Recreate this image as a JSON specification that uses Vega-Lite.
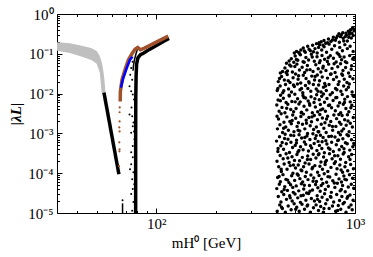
{
"$schema":"https://vega.github.io/schema/vega-lite/v6.json",
"width":298,"height":199,
"autosize":{"type":"none"},
"padding":{"left":57,"top":14,"right":18,"bottom":44},
"background":"white",
"config":{"view":{"stroke":"black","strokeWidth":1},"axis":{"labelFont":"Liberation Serif","titleFont":"Liberation Serif","labelColor":"black","titleColor":"black","tickColor":"black","domain":false,"grid":false,"labelFlush":false,"labelOverlap":false}},
"datasets":{
"band":[{"m":31.62,"lo":0.119,"hi":0.196},{"m":36.7,"lo":0.105,"hi":0.183},{"m":42.7,"lo":0.083,"hi":0.158},{"m":47.3,"lo":0.069,"hi":0.137},{"m":50.1,"lo":0.056,"hi":0.118},{"m":51.9,"lo":0.034,"hi":0.088},{"m":53.1,"lo":0.0105,"hi":0.062},{"m":54.0,"lo":0.0094,"hi":0.04},{"m":54.8,"lo":0.0094,"hi":0.022},{"m":55.4,"lo":0.0094,"hi":0.0115}],
"curves":[
{"g":"k1","o":1,"m":54.5,"l":0.0106},{"g":"k1","o":2,"m":64.8,"l":0.000094},
{"g":"br","o":1,"m":65.8,"l":0.0063},{"g":"br","o":3,"m":65.9,"l":0.0112},{"g":"br","o":4,"m":67.2,"l":0.0224},{"g":"br","o":5,"m":69.8,"l":0.0422},{"g":"br","o":6,"m":72.4,"l":0.0708},{"g":"br","o":7,"m":75.4,"l":0.1},{"g":"br","o":8,"m":78.1,"l":0.1296},{"g":"br","o":9,"m":80.6,"l":0.1437},{"g":"br","o":10,"m":83.2,"l":0.126},{"g":"br","o":11,"m":87.1,"l":0.139},{"g":"br","o":12,"m":92.3,"l":0.16},{"g":"br","o":13,"m":97.7,"l":0.185},{"g":"br","o":14,"m":103.5,"l":0.214},{"g":"br","o":15,"m":109.6,"l":0.247},{"g":"br","o":16,"m":114.8,"l":0.277},
{"g":"bl","o":1,"m":66.3,"l":0.0141},{"g":"bl","o":2,"m":68.2,"l":0.0247},{"g":"bl","o":3,"m":71.0,"l":0.0439},{"g":"bl","o":4,"m":73.7,"l":0.0708},{"g":"bl","o":5,"m":75.9,"l":0.0841},
{"g":"k","o":1,"m":78.7,"l":0.00001},{"g":"k","o":2,"m":78.7,"l":0.001},{"g":"k","o":3,"m":78.8,"l":0.0079},{"g":"k","o":4,"m":79.1,"l":0.0282},{"g":"k","o":5,"m":79.6,"l":0.0562},{"g":"k","o":6,"m":80.8,"l":0.079},{"g":"k","o":7,"m":83.2,"l":0.095},{"g":"k","o":8,"m":86.1,"l":0.103},{"g":"k","o":9,"m":92.3,"l":0.129},{"g":"k","o":10,"m":101.2,"l":0.167},{"g":"k","o":11,"m":109.6,"l":0.209},{"g":"k","o":12,"m":115.8,"l":0.244},
{"g":"kt","o":1,"m":80.4,"l":0.133},{"g":"kt","o":2,"m":79.0,"l":0.1},{"g":"kt","o":3,"m":77.6,"l":0.0708},{"g":"kt","o":4,"m":76.7,"l":0.0501},{"g":"kt","o":5,"m":76.3,"l":0.0376},
{"g":"ki","o":1,"m":67.6,"l":0.00001},{"g":"ki","o":2,"m":67.6,"l":0.0000175}
],
"bd":[{"m":65.4,"l":0.0045},{"m":65.3,"l":0.0034},{"m":65.3,"l":0.002},{"m":65.1,"l":0.00141},{"m":65.3,"l":0.00112},{"m":65.1,"l":0.000596},{"m":65.3,"l":0.000398},{"m":65.2,"l":0.000355},{"m":64.9,"l":0.00015}],
"kd":[{"m":74.7,"l":0.0439},{"m":73.9,"l":0.0299},{"m":75.6,"l":0.0224},{"m":73.3,"l":0.0152},{"m":74.7,"l":0.0114},{"m":76.1,"l":0.00944},{"m":73.3,"l":0.00299},{"m":75.6,"l":0.00271},{"m":76.7,"l":0.00188},{"m":76.1,"l":0.00152},{"m":74.7,"l":0.00104},{"m":77.6,"l":0.000708},{"m":76.1,"l":0.000481},{"m":74.7,"l":0.000335},{"m":76.1,"l":0.000251},{"m":74.7,"l":0.000168},{"m":76.7,"l":0.000106},{"m":75.6,"l":7.08e-5},{"m":76.1,"l":3.98e-5},{"m":74.7,"l":2.99e-5},{"m":76.7,"l":1.88e-5},{"m":75.6,"l":1.14e-5},{"m":77.2,"l":0.00708},{"m":75.0,"l":0.00447},{"m":77.2,"l":0.00112},{"m":73.7,"l":0.000126},{"m":77.4,"l":5.31e-5},{"m":75.9,"l":0.0631},{"m":67.6,"l":2.1e-5}],
"s":[
{"m":406,"l":1.1e-5},{"m":418,"l":1.6e-5},{"m":431,"l":1.3e-5},{"m":446,"l":1.05e-5},{"m":461,"l":1.5e-5},{"m":477,"l":1.2e-5},{"m":494,"l":1.7e-5},{"m":509,"l":1.4e-5},{"m":524,"l":1.1e-5},{"m":541,"l":1.65e-5},{"m":557,"l":1.25e-5},{"m":574,"l":1.5e-5},{"m":596,"l":1.05e-5},{"m":618,"l":1.35e-5},{"m":637,"l":1.6e-5},{"m":655,"l":1.15e-5},{"m":672,"l":1.45e-5},{"m":693,"l":1.05e-5},{"m":712,"l":1.7e-5},{"m":741,"l":1.3e-5},{"m":770,"l":1.5e-5},{"m":799,"l":1.1e-5},{"m":824,"l":1.55e-5},{"m":848,"l":1.25e-5},{"m":871,"l":1.7e-5},{"m":901,"l":1.05e-5},{"m":932,"l":1.4e-5},{"m":968,"l":1.2e-5},
{"m":411,"l":2.6e-5},{"m":424,"l":1.9e-5},{"m":438,"l":2.9e-5},{"m":452,"l":2.2e-5},{"m":469,"l":2.7e-5},{"m":483,"l":2.0e-5},{"m":499,"l":3.0e-5},{"m":515,"l":2.4e-5},{"m":531,"l":1.85e-5},{"m":549,"l":2.8e-5},{"m":566,"l":2.1e-5},{"m":584,"l":3.1e-5},{"m":603,"l":2.3e-5},{"m":625,"l":2.0e-5},{"m":645,"l":2.7e-5},{"m":664,"l":1.95e-5},{"m":683,"l":2.5e-5},{"m":703,"l":3.05e-5},{"m":725,"l":2.15e-5},{"m":752,"l":2.6e-5},{"m":781,"l":1.9e-5},{"m":809,"l":2.9e-5},{"m":836,"l":2.05e-5},{"m":859,"l":2.6e-5},{"m":884,"l":1.85e-5},{"m":912,"l":2.35e-5},{"m":944,"l":2.85e-5},{"m":978,"l":2.1e-5},
{"m":404,"l":4.1e-5},{"m":416,"l":5.3e-5},{"m":428,"l":3.4e-5},{"m":443,"l":4.6e-5},{"m":457,"l":3.7e-5},{"m":474,"l":5.1e-5},{"m":489,"l":3.3e-5},{"m":506,"l":4.8e-5},{"m":521,"l":3.6e-5},{"m":537,"l":5.4e-5},{"m":552,"l":4.0e-5},{"m":571,"l":3.2e-5},{"m":590,"l":4.9e-5},{"m":611,"l":3.8e-5},{"m":633,"l":5.2e-5},{"m":650,"l":4.3e-5},{"m":668,"l":3.5e-5},{"m":689,"l":5.5e-5},{"m":709,"l":3.9e-5},{"m":734,"l":4.7e-5},{"m":760,"l":3.3e-5},{"m":792,"l":4.4e-5},{"m":815,"l":5.6e-5},{"m":842,"l":3.6e-5},{"m":866,"l":4.9e-5},{"m":893,"l":3.4e-5},{"m":925,"l":4.5e-5},{"m":958,"l":5.3e-5},
{"m":408,"l":7.8e-5},{"m":421,"l":6.1e-5},{"m":434,"l":9.2e-5},{"m":449,"l":7.0e-5},{"m":465,"l":5.8e-5},{"m":480,"l":8.6e-5},{"m":497,"l":6.6e-5},{"m":512,"l":9.6e-5},{"m":528,"l":7.3e-5},{"m":545,"l":6.0e-5},{"m":562,"l":8.3e-5},{"m":580,"l":6.9e-5},{"m":600,"l":9.0e-5},{"m":620,"l":7.6e-5},{"m":640,"l":6.2e-5},{"m":659,"l":8.8e-5},{"m":679,"l":7.1e-5},{"m":700,"l":9.7e-5},{"m":720,"l":5.9e-5},{"m":746,"l":8.0e-5},{"m":773,"l":6.5e-5},{"m":803,"l":9.4e-5},{"m":831,"l":7.2e-5},{"m":855,"l":6.0e-5},{"m":879,"l":8.5e-5},{"m":906,"l":6.8e-5},{"m":938,"l":9.1e-5},{"m":972,"l":7.5e-5},
{"m":415,"l":8.3e-5},{"m":427,"l":1.4e-5},{"m":440,"l":3.9e-5},{"m":458,"l":6.7e-5},{"m":472,"l":2.4e-5},{"m":486,"l":4.4e-5},{"m":503,"l":1.25e-5},{"m":518,"l":8.9e-5},{"m":535,"l":2.7e-5},{"m":556,"l":5.0e-5},{"m":578,"l":1.6e-5},{"m":593,"l":3.5e-5},{"m":615,"l":6.3e-5},{"m":648,"l":2.2e-5},{"m":676,"l":4.9e-5},{"m":698,"l":1.3e-5},{"m":731,"l":8.2e-5},{"m":757,"l":2.5e-5},{"m":787,"l":5.7e-5},{"m":818,"l":1.15e-5},{"m":853,"l":3.9e-5},{"m":889,"l":7.0e-5},{"m":920,"l":2.6e-5},{"m":955,"l":1.6e-5},{"m":985,"l":4.2e-5},
{"m":413,"l":1.45e-4},{"m":426,"l":1.1e-4},{"m":440,"l":1.7e-4},{"m":455,"l":1.25e-4},{"m":472,"l":1.55e-4},{"m":487,"l":1.0e-4},{"m":502,"l":1.35e-4},{"m":518,"l":1.6e-4},{"m":535,"l":1.2e-4},{"m":551,"l":1.45e-4},{"m":569,"l":1.05e-4},{"m":587,"l":1.7e-4},{"m":608,"l":1.3e-4},{"m":628,"l":1.55e-4},{"m":648,"l":1.05e-4},{"m":666,"l":1.5e-4},{"m":686,"l":1.25e-4},{"m":707,"l":1.65e-4},{"m":730,"l":1.1e-4},{"m":757,"l":1.4e-4},{"m":787,"l":1.75e-4},{"m":812,"l":1.3e-4},{"m":839,"l":1.6e-4},{"m":866,"l":1.05e-4},{"m":890,"l":1.45e-4},{"m":919,"l":1.15e-4},{"m":951,"l":1.65e-4},{"m":982,"l":1.3e-4},
{"m":405,"l":2.0e-4},{"m":420,"l":2.8e-4},{"m":435,"l":2.3e-4},{"m":450,"l":3.1e-4},{"m":466,"l":1.85e-4},{"m":482,"l":2.6e-4},{"m":496,"l":2.1e-4},{"m":510,"l":2.95e-4},{"m":526,"l":2.05e-4},{"m":543,"l":2.5e-4},{"m":561,"l":1.8e-4},{"m":578,"l":2.7e-4},{"m":598,"l":2.2e-4},{"m":616,"l":3.0e-4},{"m":636,"l":2.4e-4},{"m":654,"l":2.9e-4},{"m":674,"l":1.9e-4},{"m":695,"l":2.55e-4},{"m":718,"l":2.1e-4},{"m":744,"l":3.1e-4},{"m":767,"l":2.3e-4},{"m":797,"l":1.95e-4},{"m":820,"l":2.75e-4},{"m":845,"l":2.25e-4},{"m":872,"l":3.05e-4},{"m":898,"l":1.85e-4},{"m":929,"l":2.6e-4},{"m":962,"l":2.95e-4},
{"m":409,"l":3.5e-4},{"m":423,"l":4.9e-4},{"m":437,"l":4.0e-4},{"m":451,"l":5.5e-4},{"m":468,"l":3.3e-4},{"m":485,"l":4.4e-4},{"m":500,"l":5.0e-4},{"m":516,"l":3.4e-4},{"m":532,"l":4.6e-4},{"m":548,"l":3.9e-4},{"m":565,"l":5.3e-4},{"m":583,"l":3.6e-4},{"m":605,"l":4.3e-4},{"m":623,"l":5.6e-4},{"m":643,"l":3.7e-4},{"m":662,"l":5.0e-4},{"m":681,"l":4.2e-4},{"m":701,"l":3.25e-4},{"m":722,"l":5.4e-4},{"m":748,"l":4.0e-4},{"m":778,"l":3.5e-4},{"m":805,"l":5.2e-4},{"m":833,"l":3.9e-4},{"m":857,"l":4.7e-4},{"m":882,"l":3.3e-4},{"m":914,"l":5.5e-4},{"m":941,"l":3.8e-4},{"m":975,"l":4.6e-4},
{"m":403,"l":6.4e-4},{"m":417,"l":8.2e-4},{"m":430,"l":5.9e-4},{"m":445,"l":9.5e-4},{"m":460,"l":7.1e-4},{"m":476,"l":6.0e-4},{"m":492,"l":8.8e-4},{"m":508,"l":6.7e-4},{"m":523,"l":9.3e-4},{"m":539,"l":7.7e-4},{"m":556,"l":6.1e-4},{"m":573,"l":8.6e-4},{"m":593,"l":7.0e-4},{"m":614,"l":9.8e-4},{"m":631,"l":7.4e-4},{"m":652,"l":6.3e-4},{"m":670,"l":9.0e-4},{"m":691,"l":7.9e-4},{"m":713,"l":6.5e-4},{"m":738,"l":8.4e-4},{"m":763,"l":6.0e-4},{"m":793,"l":8.1e-4},{"m":818,"l":6.6e-4},{"m":844,"l":9.2e-4},{"m":869,"l":7.3e-4},{"m":895,"l":5.8e-4},{"m":927,"l":8.7e-4},{"m":960,"l":6.9e-4},
{"m":410,"l":4.2e-4},{"m":425,"l":1.25e-4},{"m":442,"l":7.4e-4},{"m":459,"l":2.4e-4},{"m":475,"l":9.0e-4},{"m":490,"l":1.6e-4},{"m":507,"l":5.7e-4},{"m":522,"l":3.7e-4},{"m":540,"l":1.15e-4},{"m":559,"l":7.9e-4},{"m":576,"l":2.2e-4},{"m":597,"l":4.9e-4},{"m":612,"l":1.4e-4},{"m":638,"l":8.8e-4},{"m":659,"l":3.1e-4},{"m":683,"l":6.2e-4},{"m":709,"l":1.9e-4},{"m":735,"l":4.3e-4},{"m":761,"l":8.5e-4},{"m":790,"l":2.75e-4},{"m":826,"l":6.8e-4},{"m":851,"l":1.2e-4},{"m":880,"l":4.1e-4},{"m":911,"l":9.3e-4},{"m":944,"l":2.2e-4},{"m":986,"l":5.6e-4},
{"m":407,"l":1.3e-3},{"m":419,"l":1.65e-3},{"m":432,"l":1.05e-3},{"m":448,"l":1.45e-3},{"m":462,"l":1.2e-3},{"m":478,"l":1.75e-3},{"m":493,"l":1.1e-3},{"m":511,"l":1.5e-3},{"m":527,"l":1.15e-3},{"m":544,"l":1.7e-3},{"m":559,"l":1.3e-3},{"m":577,"l":1.0e-3},{"m":595,"l":1.55e-3},{"m":619,"l":1.25e-3},{"m":639,"l":1.45e-3},{"m":657,"l":1.1e-3},{"m":676,"l":1.7e-3},{"m":697,"l":1.35e-3},{"m":716,"l":1.05e-3},{"m":742,"l":1.6e-3},{"m":772,"l":1.2e-3},{"m":801,"l":1.5e-3},{"m":826,"l":1.05e-3},{"m":850,"l":1.7e-3},{"m":876,"l":1.3e-3},{"m":903,"l":1.6e-3},{"m":934,"l":1.1e-3},{"m":970,"l":1.45e-3},
{"m":412,"l":2.3e-3},{"m":425,"l":3.1e-3},{"m":439,"l":1.9e-3},{"m":454,"l":2.6e-3},{"m":470,"l":2.0e-3},{"m":486,"l":2.9e-3},{"m":503,"l":2.4e-3},{"m":519,"l":1.85e-3},{"m":534,"l":2.65e-3},{"m":550,"l":3.05e-3},{"m":568,"l":2.15e-3},{"m":586,"l":2.5e-3},{"m":604,"l":1.95e-3},{"m":624,"l":2.8e-3},{"m":647,"l":2.2e-3},{"m":665,"l":3.0e-3},{"m":685,"l":2.45e-3},{"m":706,"l":1.85e-3},{"m":728,"l":2.7e-3},{"m":755,"l":2.0e-3},{"m":783,"l":2.9e-3},{"m":808,"l":2.35e-3},{"m":835,"l":1.9e-3},{"m":861,"l":2.8e-3},{"m":887,"l":2.2e-3},{"m":916,"l":2.95e-3},{"m":947,"l":1.8e-3},{"m":980,"l":2.5e-3},
{"m":404,"l":5.2e-3},{"m":415,"l":3.6e-3},{"m":429,"l":4.5e-3},{"m":444,"l":3.3e-3},{"m":459,"l":5.4e-3},{"m":475,"l":4.0e-3},{"m":491,"l":3.5e-3},{"m":505,"l":4.2e-3},{"m":522,"l":5.5e-3},{"m":538,"l":3.4e-3},{"m":554,"l":4.8e-3},{"m":572,"l":3.9e-3},{"m":592,"l":5.1e-3},{"m":610,"l":3.3e-3},{"m":632,"l":4.6e-3},{"m":649,"l":3.5e-3},{"m":669,"l":5.3e-3},{"m":688,"l":4.1e-3},{"m":710,"l":3.6e-3},{"m":736,"l":5.0e-3},{"m":762,"l":4.4e-3},{"m":796,"l":3.7e-3},{"m":822,"l":4.9e-3},{"m":847,"l":3.3e-3},{"m":873,"l":5.4e-3},{"m":900,"l":4.2e-3},{"m":931,"l":3.5e-3},{"m":964,"l":5.1e-3},
{"m":410,"l":6.9e-3},{"m":422,"l":9.1e-3},{"m":436,"l":7.6e-3},{"m":450,"l":6.0e-3},{"m":467,"l":8.7e-3},{"m":481,"l":6.3e-3},{"m":498,"l":9.6e-3},{"m":514,"l":7.4e-3},{"m":530,"l":6.2e-3},{"m":547,"l":9.0e-3},{"m":564,"l":7.8e-3},{"m":581,"l":6.5e-3},{"m":601,"l":8.3e-3},{"m":622,"l":6.0e-3},{"m":641,"l":9.4e-3},{"m":661,"l":7.0e-3},{"m":680,"l":8.6e-3},{"m":702,"l":6.1e-3},{"m":723,"l":7.5e-3},{"m":750,"l":9.3e-3},{"m":776,"l":6.7e-3},{"m":810,"l":8.0e-3},{"m":837,"l":5.9e-3},{"m":862,"l":9.5e-3},{"m":888,"l":7.2e-3},{"m":917,"l":8.4e-3},{"m":946,"l":6.2e-3},{"m":977,"l":9.0e-3},
{"m":405,"l":2.7e-3},{"m":421,"l":6.6e-3},{"m":437,"l":1.35e-3},{"m":453,"l":4.3e-3},{"m":466,"l":9.1e-3},{"m":483,"l":2.1e-3},{"m":500,"l":6.2e-3},{"m":517,"l":1.2e-3},{"m":536,"l":3.3e-3},{"m":553,"l":8.0e-3},{"m":570,"l":1.8e-3},{"m":590,"l":5.6e-3},{"m":607,"l":2.6e-3},{"m":628,"l":7.4e-3},{"m":652,"l":1.1e-3},{"m":672,"l":3.9e-3},{"m":694,"l":9.8e-3},{"m":719,"l":2.3e-3},{"m":745,"l":5.2e-3},{"m":770,"l":1.5e-3},{"m":800,"l":7.9e-3},{"m":829,"l":3.0e-3},{"m":858,"l":1.15e-3},{"m":885,"l":6.0e-3},{"m":922,"l":2.05e-3},{"m":953,"l":4.4e-3},{"m":983,"l":8.6e-3},
{"m":406,"l":0.012},{"m":420,"l":0.0155},{"m":433,"l":0.0105},{"m":447,"l":0.017},{"m":463,"l":0.013},{"m":479,"l":0.011},{"m":495,"l":0.015},{"m":513,"l":0.0175},{"m":529,"l":0.0125},{"m":546,"l":0.0105},{"m":563,"l":0.016},{"m":579,"l":0.0135},{"m":599,"l":0.0115},{"m":617,"l":0.017},{"m":638,"l":0.013},{"m":656,"l":0.0165},{"m":675,"l":0.011},{"m":694,"l":0.0145},{"m":717,"l":0.012},{"m":740,"l":0.017},{"m":769,"l":0.0105},{"m":798,"l":0.0135},{"m":823,"l":0.017},{"m":849,"l":0.0115},{"m":877,"l":0.0155},{"m":904,"l":0.0125},{"m":936,"l":0.0175},{"m":967,"l":0.011},
{"m":411,"l":0.02},{"m":427,"l":0.027},{"m":441,"l":0.022},{"m":456,"l":0.03},{"m":471,"l":0.019},{"m":488,"l":0.025},{"m":502,"l":0.031},{"m":517,"l":0.023},{"m":533,"l":0.0185},{"m":549,"l":0.029},{"m":567,"l":0.024},{"m":585,"l":0.02},{"m":606,"l":0.0275},{"m":626,"l":0.022},{"m":646,"l":0.0295},{"m":663,"l":0.021},{"m":684,"l":0.026},{"m":704,"l":0.018},{"m":727,"l":0.0245},{"m":753,"l":0.0305},{"m":780,"l":0.0225},{"m":807,"l":0.026},{"m":832,"l":0.02},{"m":858,"l":0.031},{"m":883,"l":0.023},{"m":911,"l":0.019},{"m":943,"l":0.027},{"m":976,"l":0.0235},
{"m":421,"l":0.033},{"m":432,"l":0.036},{"m":444,"l":0.044},{"m":457,"l":0.037},{"m":469,"l":0.052},{"m":484,"l":0.035},{"m":498,"l":0.048},{"m":510,"l":0.055},{"m":525,"l":0.039},{"m":542,"l":0.046},{"m":558,"l":0.034},{"m":576,"l":0.051},{"m":594,"l":0.04},{"m":615,"l":0.036},{"m":635,"l":0.053},{"m":653,"l":0.042},{"m":673,"l":0.035},{"m":692,"l":0.049},{"m":714,"l":0.038},{"m":737,"l":0.055},{"m":766,"l":0.043},{"m":794,"l":0.034},{"m":819,"l":0.047},{"m":846,"l":0.056},{"m":870,"l":0.038},{"m":897,"l":0.045},{"m":928,"l":0.033},{"m":961,"l":0.05},
{"m":452,"l":0.058},{"m":466,"l":0.066},{"m":478,"l":0.075},{"m":492,"l":0.061},{"m":500,"l":0.088},{"m":515,"l":0.069},{"m":531,"l":0.094},{"m":548,"l":0.063},{"m":566,"l":0.081},{"m":584,"l":0.07},{"m":603,"l":0.097},{"m":624,"l":0.065},{"m":644,"l":0.084},{"m":662,"l":0.06},{"m":682,"l":0.091},{"m":703,"l":0.073},{"m":726,"l":0.064},{"m":751,"l":0.089},{"m":779,"l":0.077},{"m":804,"l":0.062},{"m":829,"l":0.096},{"m":856,"l":0.071},{"m":881,"l":0.083},{"m":909,"l":0.06},{"m":940,"l":0.09},{"m":974,"l":0.074},
{"m":409,"l":0.0135},{"m":417,"l":0.024},{"m":438,"l":0.0118},{"m":450,"l":0.034},{"m":461,"l":0.021},{"m":476,"l":0.049},{"m":490,"l":0.0165},{"m":507,"l":0.072},{"m":520,"l":0.028},{"m":538,"l":0.0135},{"m":555,"l":0.061},{"m":572,"l":0.039},{"m":588,"l":0.0185},{"m":609,"l":0.083},{"m":630,"l":0.027},{"m":651,"l":0.0115},{"m":668,"l":0.067},{"m":689,"l":0.044},{"m":711,"l":0.0155},{"m":733,"l":0.08},{"m":758,"l":0.031},{"m":785,"l":0.056},{"m":811,"l":0.0125},{"m":841,"l":0.085},{"m":866,"l":0.029},{"m":894,"l":0.063},{"m":926,"l":0.0145},{"m":957,"l":0.041},{"m":984,"l":0.078},
{"m":495,"l":0.105},{"m":508,"l":0.115},{"m":521,"l":0.108},{"m":534,"l":0.125},{"m":549,"l":0.14},{"m":562,"l":0.11},{"m":578,"l":0.155},{"m":596,"l":0.12},{"m":612,"l":0.165},{"m":629,"l":0.135},{"m":645,"l":0.105},{"m":663,"l":0.17},{"m":680,"l":0.125},{"m":699,"l":0.15},{"m":719,"l":0.11},{"m":741,"l":0.175},{"m":764,"l":0.13},{"m":789,"l":0.16},{"m":813,"l":0.105},{"m":838,"l":0.145},{"m":864,"l":0.12},{"m":889,"l":0.17},{"m":915,"l":0.135},{"m":945,"l":0.155},{"m":979,"l":0.115},
{"m":527,"l":0.1},{"m":556,"l":0.118},{"m":587,"l":0.13},{"m":618,"l":0.112},{"m":656,"l":0.145},{"m":690,"l":0.165},{"m":728,"l":0.19},{"m":770,"l":0.222},{"m":805,"l":0.25},{"m":845,"l":0.27},{"m":878,"l":0.21},{"m":905,"l":0.295},{"m":930,"l":0.26},{"m":965,"l":0.33},{"m":990,"l":0.38},
{"m":640,"l":0.18},{"m":660,"l":0.19},{"m":676,"l":0.2},{"m":698,"l":0.215},{"m":712,"l":0.185},{"m":735,"l":0.235},{"m":756,"l":0.205},{"m":778,"l":0.26},{"m":797,"l":0.22},{"m":816,"l":0.28},{"m":834,"l":0.195},{"m":853,"l":0.3},{"m":872,"l":0.245},{"m":893,"l":0.27},{"m":915,"l":0.21},{"m":937,"l":0.31},{"m":958,"l":0.25},{"m":980,"l":0.29},
{"m":830,"l":0.32},{"m":868,"l":0.34},{"m":900,"l":0.33},{"m":925,"l":0.37},{"m":950,"l":0.4},{"m":972,"l":0.45},{"m":985,"l":0.42},{"m":940,"l":0.35}
]
},
"layer":[
{"data":{"name":"s"},"mark":{"type":"point","filled":true,"shape":"circle","size":12,"color":"black","opacity":1,"clip":true},
 "encoding":{
  "x":{"field":"m","type":"quantitative","scale":{"type":"log","domain":[31.6228,1000],"nice":false},
   "axis":{"orient":"bottom","values":[40,50,60,70,80,90,100,200,300,400,500,600,700,800,900,1000],
    "labelExpr":"datum.value==100?'10²':(datum.value==1000?'10³':'')",
    "tickSize":{"condition":{"test":"datum.value==100||datum.value==1000","value":-5},"value":-2.5},
    "labelFont":"Liberation Serif","titleFont":"Liberation Serif",
    "labelPadding":8,"labelFontSize":15,"title":"mH⁰ [GeV]","titleFontSize":15,"titleFontWeight":"normal","titlePadding":2}},
  "y":{"field":"l","type":"quantitative","scale":{"type":"log","domain":[0.00001,1],"nice":false},
   "axis":{"orient":"left","values":[1e-5,2e-5,3e-5,4e-5,5e-5,6e-5,7e-5,8e-5,9e-5,1e-4,2e-4,3e-4,4e-4,5e-4,6e-4,7e-4,8e-4,9e-4,0.001,0.002,0.003,0.004,0.005,0.006,0.007,0.008,0.009,0.01,0.02,0.03,0.04,0.05,0.06,0.07,0.08,0.09,0.1,0.2,0.3,0.4,0.5,0.6,0.7,0.8,0.9,1],
    "labelExpr":"abs(log(datum.value)/LN10-round(log(datum.value)/LN10))<1e-6 ? ['10⁰','10⁻¹','10⁻²','10⁻³','10⁻⁴','10⁻⁵'][-round(log(datum.value)/LN10)] : ''",
    "tickSize":{"condition":{"test":"abs(log(datum.value)/LN10-round(log(datum.value)/LN10))<1e-6","value":-5},"value":-2.5},
    "labelFont":"Liberation Serif","titleFont":"Liberation Serif",
    "labelPadding":9,"labelFontSize":15,"title":"|λL|","titleFontSize":15,"titleFontWeight":"bold","titleFontStyle":"italic","titlePadding":4}}
 }},
{"data":{"name":"band"},"mark":{"type":"area","color":"#bfbfbf","clip":true},
 "encoding":{
  "x":{"field":"m","type":"quantitative","axis":{"orient":"top","values":[40,50,60,70,80,90,100,200,300,400,500,600,700,800,900,1000],"labels":false,"title":null,
    "tickSize":{"condition":{"test":"datum.value==100||datum.value==1000","value":-5},"value":-2.5}}},
  "y":{"field":"lo","type":"quantitative","axis":{"orient":"right","values":[1e-5,2e-5,3e-5,4e-5,5e-5,6e-5,7e-5,8e-5,9e-5,1e-4,2e-4,3e-4,4e-4,5e-4,6e-4,7e-4,8e-4,9e-4,0.001,0.002,0.003,0.004,0.005,0.006,0.007,0.008,0.009,0.01,0.02,0.03,0.04,0.05,0.06,0.07,0.08,0.09,0.1,0.2,0.3,0.4,0.5,0.6,0.7,0.8,0.9,1],"labels":false,"title":null,
    "tickSize":{"condition":{"test":"abs(log(datum.value)/LN10-round(log(datum.value)/LN10))<1e-6","value":-5},"value":-2.5}}},
  "y2":{"field":"hi"}
 }},
{"data":{"name":"curves"},"transform":[{"filter":"datum.g=='k1'"}],"mark":{"type":"line","color":"black","strokeWidth":3.5,"clip":true},
 "encoding":{"x":{"field":"m","type":"quantitative","axis":null},"y":{"field":"l","type":"quantitative","axis":null},"order":{"field":"o"}}},
{"data":{"name":"curves"},"transform":[{"filter":"datum.g=='k'"}],"mark":{"type":"line","color":"black","strokeWidth":3.5,"clip":true},
 "encoding":{"x":{"field":"m","type":"quantitative","axis":null},"y":{"field":"l","type":"quantitative","axis":null},"order":{"field":"o"}}},
{"data":{"name":"curves"},"transform":[{"filter":"datum.g=='kt'||datum.g=='ki'"}],"mark":{"type":"line","color":"black","strokeWidth":1.5,"clip":true},
 "encoding":{"x":{"field":"m","type":"quantitative","axis":null},"y":{"field":"l","type":"quantitative","axis":null},"detail":{"field":"g"},"order":{"field":"o"}}},
{"data":{"name":"kd"},"mark":{"type":"point","filled":true,"shape":"circle","size":4,"color":"black","opacity":1,"clip":true},
 "encoding":{"x":{"field":"m","type":"quantitative","axis":null},"y":{"field":"l","type":"quantitative","axis":null}}},
{"data":{"name":"curves"},"transform":[{"filter":"datum.g=='br'"}],"mark":{"type":"line","color":"#a0522d","strokeWidth":3.5,"clip":true},
 "encoding":{"x":{"field":"m","type":"quantitative","axis":null},"y":{"field":"l","type":"quantitative","axis":null},"order":{"field":"o"}}},
{"data":{"name":"bd"},"mark":{"type":"point","filled":true,"shape":"circle","size":5,"color":"#a0522d","opacity":1,"clip":true},
 "encoding":{"x":{"field":"m","type":"quantitative","axis":null},"y":{"field":"l","type":"quantitative","axis":null}}},
{"data":{"name":"curves"},"transform":[{"filter":"datum.g=='bl'"}],"mark":{"type":"line","color":"#0000ff","strokeWidth":2.5,"clip":true},
 "encoding":{"x":{"field":"m","type":"quantitative","axis":null},"y":{"field":"l","type":"quantitative","axis":null},"order":{"field":"o"}}}
],
"resolve":{"axis":{"x":"independent","y":"independent"}}
}
